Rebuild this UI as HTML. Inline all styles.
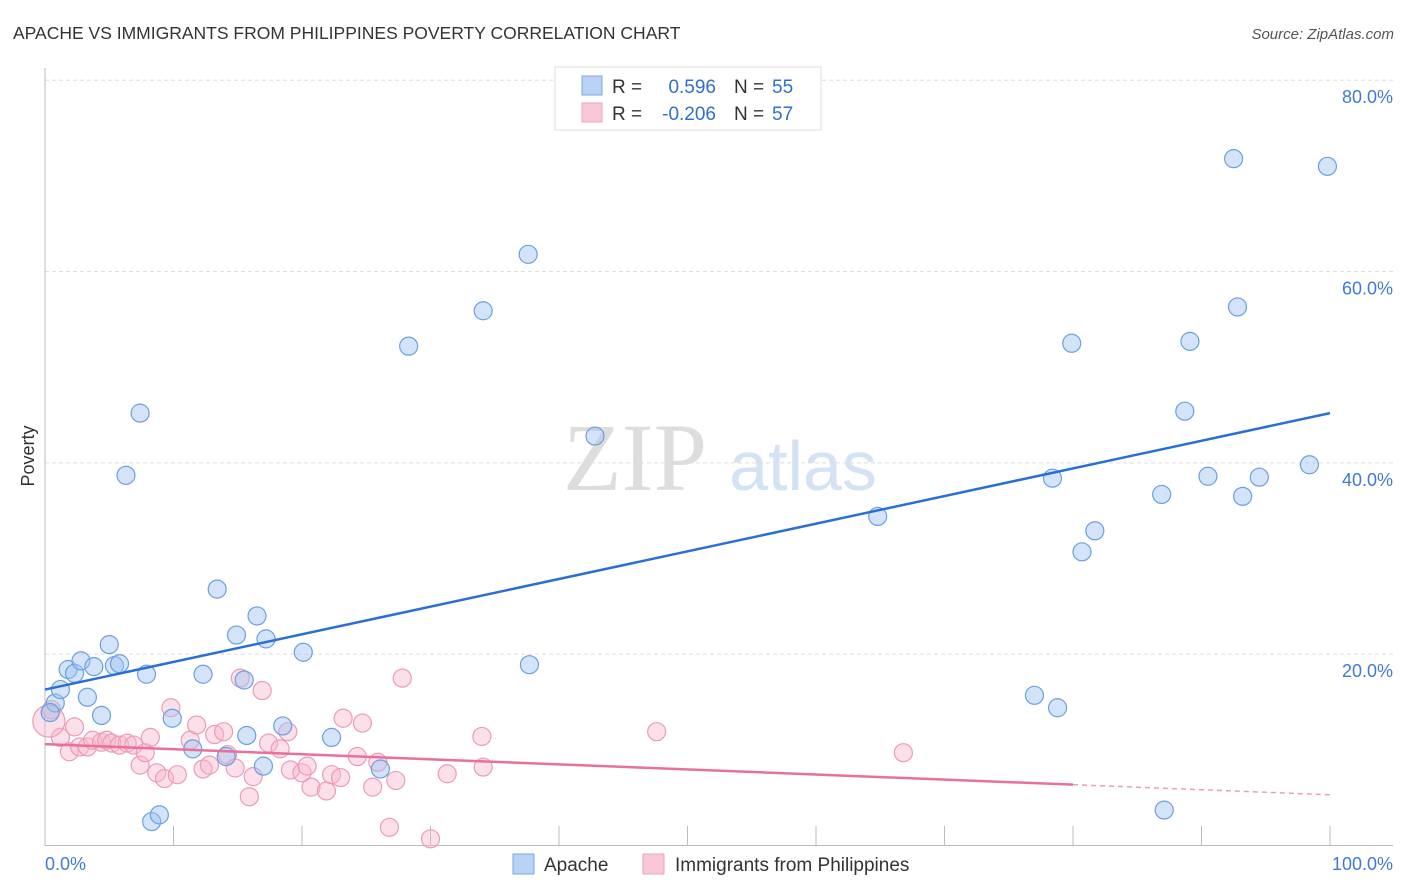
<!DOCTYPE html>
<html><head><meta charset="utf-8"><style>
body{margin:0;background:#fff;font-family:"Liberation Sans",sans-serif}
svg{display:block}
</style></head><body>
<svg id="chart" width="1406" height="892" xmlns="http://www.w3.org/2000/svg">
<text x="13" y="39" font-size="17.5" fill="#333">APACHE VS IMMIGRANTS FROM PHILIPPINES POVERTY CORRELATION CHART</text>
<text x="1394" y="39" font-size="15" fill="#555" font-style="italic" text-anchor="end">Source: ZipAtlas.com</text>
<g>
<text x="635" y="490" font-size="96" fill="#ddd" font-family="Liberation Serif,serif" text-anchor="middle">ZIP</text>
<text x="803" y="490" font-size="70" fill="#d3e2f5" text-anchor="middle">atlas</text>
</g>
<g id="grid"></g>
<g id="axes"></g>
<g id="marks"></g>
<text x="34" y="456" font-size="18" fill="#333" text-anchor="middle" transform="rotate(-90 34 456)">Poverty</text>
<g>
<rect x="555" y="67" width="266" height="63" fill="#fff" stroke="#ddd"/>
<rect x="582" y="76" width="20" height="19" fill="#b8d3f5" stroke="#7aa8e6"/>
<rect x="582" y="103" width="20" height="19" fill="#f9c8d6" stroke="#eda2ba"/>
<text x="612" y="93" font-size="19" fill="#333">R =</text><text x="716" y="93" font-size="19" fill="#2f6fd0" text-anchor="end">0.596</text>
<text x="734" y="93" font-size="19" fill="#333">N =</text><text x="772" y="93" font-size="19" fill="#2f6fd0">55</text>
<text x="612" y="120" font-size="19" fill="#333">R =</text><text x="716" y="120" font-size="19" fill="#2f6fd0" text-anchor="end">-0.206</text>
<text x="734" y="120" font-size="19" fill="#333">N =</text><text x="772" y="120" font-size="19" fill="#2f6fd0">57</text>
</g>
<g>
<rect x="513" y="854" width="21" height="20" fill="#b8d3f5" stroke="#7aa8e6"/>
<text x="544" y="871" font-size="19" fill="#333">Apache</text>
<rect x="643" y="854" width="21" height="20" fill="#f9c8d6" stroke="#eda2ba"/>
<text x="675" y="871" font-size="19" fill="#333">Immigrants from Philippines</text>
</g>
</svg>
<script>
const apacheX=[0.8,1.2,1.8,2.3,2.8,3.3,3.8,4.4,5.0,5.4,5.8,6.3,7.4,7.9,8.3,8.9,9.9,11.5,12.3,13.4,14.1,14.9,15.5,15.7,16.5,17.0,17.2,18.5,20.1,22.3,26.1,28.3,34.1,37.6,37.7,42.8,64.8,77.0,78.4,78.8,79.9,80.7,81.7,86.9,87.1,88.7,89.1,90.5,92.5,92.8,93.2,94.5,98.4,99.8,0.4];
const apacheY=[14.9,16.3,18.4,18.0,19.3,15.5,18.7,13.6,21.0,18.8,19.0,38.7,45.2,17.9,2.5,3.2,13.3,10.1,17.9,26.8,9.3,22.0,17.3,11.5,24.0,8.3,21.6,12.5,20.2,11.3,8.0,52.2,55.9,61.8,18.9,42.8,34.4,15.7,38.4,14.4,52.5,30.7,32.9,36.7,3.7,45.4,52.7,38.6,71.8,56.3,36.5,38.5,39.8,71.0,13.9];
const philX=[0.5,1.2,1.9,2.3,2.7,3.3,3.7,4.4,4.8,5.2,5.8,6.4,6.9,7.4,7.8,8.2,8.7,9.3,9.8,10.3,11.3,11.8,12.3,12.8,13.2,13.9,14.2,14.8,15.2,15.9,16.2,16.9,17.4,18.3,18.9,19.1,20.0,20.4,20.7,21.9,22.3,23.0,23.2,24.7,24.3,25.5,25.9,27.3,27.8,26.8,30.0,31.3,34.0,34.1,47.6,66.8,0.3];
const philY=[14.2,11.3,9.8,12.4,10.3,10.3,11.0,10.8,11.0,10.7,10.5,10.7,10.5,8.4,9.7,11.3,7.6,7.0,14.4,7.4,11.0,12.6,8.0,8.4,11.6,11.9,9.5,8.1,17.5,5.1,7.2,16.2,10.7,10.1,11.9,7.9,7.6,8.3,6.1,5.7,7.4,7.1,13.3,12.8,9.3,6.1,8.7,6.8,17.5,1.9,0.7,7.5,11.4,8.2,11.9,9.7,13.0];
const apacheTrend=[16.3,45.2];
const philTrend=[10.6,5.3];
const philTrendSolidEnd=80;
const yTicks=[20,40,60,80];
const yTickLabels=["20.0%","40.0%","60.0%","80.0%"];
const xTicks=[10,20,30,40,50,60,70,80,90,100];

const NS="http://www.w3.org/2000/svg";
const X0=45,X1=1330,Y0=845.5,YS=9.566;
const sx=v=>X0+(X1-X0)*v/100;
const sy=v=>Y0-v*YS;
function mk(tag,attrs,parent){const e=document.createElementNS(NS,tag);for(const k in attrs)e.setAttribute(k,attrs[k]);document.getElementById(parent).appendChild(e);return e;}

yTicks.forEach((t,i)=>{
  const g=mk('line',{x1:X0,x2:1393,y1:sy(t),y2:sy(t),stroke:'#ddd','stroke-dasharray':'4,3'},'grid');
  
  
  const l=mk('text',{x:1393,y:sy(t)+23,'font-size':18,fill:'#3f7ad6','text-anchor':'end'},'grid');
  l.textContent=yTickLabels[i];
  
  
});
let a=mk('line',{x1:X0,x2:X0,y1:68,y2:846,stroke:'#bbb'},'axes');


a=mk('line',{x1:X0,x2:1393,y1:845.5,y2:845.5,stroke:'#bbb'},'axes');


xTicks.forEach(t=>{
  const k=mk('line',{x1:sx(t),x2:sx(t),y1:826,y2:845,stroke:'#bbb'},'axes');
  
  
});
let tl=mk('text',{x:45,y:870,'font-size':18,fill:'#3f7ad6'},'axes');tl.textContent='0.0%';


tl=mk('text',{x:1393,y:870,'font-size':18,fill:'#3f7ad6','text-anchor':'end'},'axes');tl.textContent='100.0%';



philX.forEach((x,i)=>{
  const c=mk('circle',{cx:sx(x),cy:sy(philY[i]),r:i===philX.length-1?16:9,fill:'rgba(248,182,202,0.42)',stroke:'#ec9bb6','stroke-width':1.2},'marks');
  
  
});
apacheX.forEach((x,i)=>{
  const c=mk('circle',{cx:sx(x),cy:sy(apacheY[i]),r:9,fill:'rgba(160,196,240,0.45)',stroke:'#6a9fe0','stroke-width':1.2},'marks');
  
  
});
let ln=mk('line',{x1:sx(0),y1:sy(apacheTrend[0]),x2:sx(100),y2:sy(apacheTrend[1]),stroke:'#2a6fd6','stroke-width':2.5},'marks');


const pAt=x=>philTrend[0]+(philTrend[1]-philTrend[0])*x/100;
ln=mk('line',{x1:sx(0),y1:sy(pAt(0)),x2:sx(philTrendSolidEnd),y2:sy(pAt(philTrendSolidEnd)),stroke:'#e8709a','stroke-width':2.5},'marks');


ln=mk('line',{x1:sx(philTrendSolidEnd),y1:sy(pAt(philTrendSolidEnd)),x2:sx(100),y2:sy(pAt(100)),stroke:'#e8a0b8','stroke-width':1.5,'stroke-dasharray':'5,4'},'marks');


</script>
</body></html>
